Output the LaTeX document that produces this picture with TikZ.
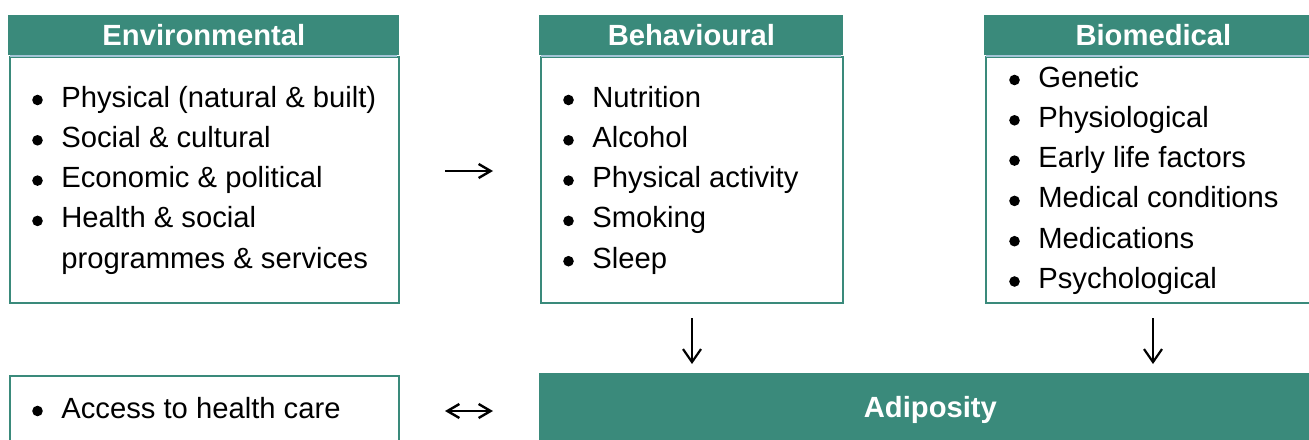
\documentclass[tikz,border=0pt]{standalone}
\usepackage{fontspec}
\setmainfont{Liberation Sans}
\usetikzlibrary{arrows.meta}
\definecolor{teal1}{HTML}{3A8A7B}
\definecolor{lblue}{HTML}{A3C4D6}
\tikzset{
  hdr/.style={fill=teal1, text=white, font=\fontsize{14.6pt}{17pt}\selectfont\bfseries, inner sep=0pt, anchor=north west, text height=10.4pt, text depth=0pt},
  body/.style={draw=teal1, line width=1pt, inner sep=0pt, anchor=north west, fill=white},
  item/.style={font=\fontsize{14.6pt}{17pt}\selectfont, inner sep=0pt, anchor=base west},
  bul/.style={circle, fill=black, inner sep=0pt, minimum size=5.3pt},
  hline/.style={draw=lblue, line width=1.1pt},
  conn/.style={line width=1.2pt, -{Straight Barb[length=6pt,width=7pt]}},
  dconn/.style={line width=1.2pt, {Straight Barb[length=6pt,width=7pt]}-{Straight Barb[length=6pt,width=7pt]}},
  vconn/.style={line width=1.1pt, -{Straight Barb[length=6.5pt,width=9pt]}},
}
\begin{document}
\begin{tikzpicture}[x=0.5pt,y=-0.5pt]
\useasboundingbox (0,0) rectangle (1309,439);
\begin{scope}
\clip (0,0) rectangle (1309,439);
% bodies
\node[body, minimum width=194.5pt, minimum height=123pt] (envbody) at (9,56) {};
\node[body, minimum width=151pt, minimum height=123pt] (behbody) at (540,56) {};
\node[body, minimum width=167pt, minimum height=123pt] (biobody) at (985,56) {};
\node[body, minimum width=194.5pt, minimum height=40pt] (accbody) at (9,375) {};
% headers
\node[hdr, minimum width=195.5pt, minimum height=20pt] (envhdr) at (8,15) {Environmental};
\node[hdr, minimum width=152pt, minimum height=20pt] (behhdr) at (539,15) {Behavioural};
\node[hdr, minimum width=169pt, minimum height=20pt] (biohdr) at (984,15) {Biomedical};
\node[hdr, minimum width=391pt, minimum height=34pt] (adip) at (539,373) {Adiposity};
\draw[hline] (10,56) -- (397,56);
\draw[hline] (541,56) -- (841,56);
\draw[hline] (986,56) -- (1320,56);
\end{scope}
% items
\foreach \t [count=\i] in {Physical (natural \& built),Social \& cultural,Economic \& political,Health \& social,programmes \& services}
  \node[item] (env\i) at (61,{107+40.3*(\i-1)}) {\t};
\foreach \i in {1,...,4} \node[bul] (envb\i) at (37.5,{100+40.3*(\i-1)}) {};
\foreach \t [count=\i] in {Nutrition,Alcohol,Physical activity,Smoking,Sleep}{
  \node[item] (beh\i) at (592,{107+40.3*(\i-1)}) {\t};
  \node[bul] (behb\i) at (568.5,{100+40.3*(\i-1)}) {};}
\foreach \t [count=\i] in {Genetic,Physiological,Early life factors,Medical conditions,Medications,Psychological}{
  \node[item] (bio\i) at (1038,{87+40.3*(\i-1)}) {\t};
  \node[bul] (biob\i) at (1014.5,{80+40.3*(\i-1)}) {};}
\node[item] (acc1) at (61,418) {Access to health care};
\node[bul] (accb1) at (37.5,411) {};
% connectors
\coordinate (r1) at (445,171); \coordinate (r2) at (493,171);
\coordinate (d1) at (445,411); \coordinate (d2) at (493,411);
\coordinate (v1a) at (692,318); \coordinate (v1b) at (692,364);
\coordinate (v2a) at (1153,318); \coordinate (v2b) at (1153,364);
\draw[conn] (r1) -- (r2);
\draw[dconn] (d1) -- (d2);
\draw[vconn] (v1a) -- (v1b);
\draw[vconn] (v2a) -- (v2b);
\end{tikzpicture}
\end{document}
